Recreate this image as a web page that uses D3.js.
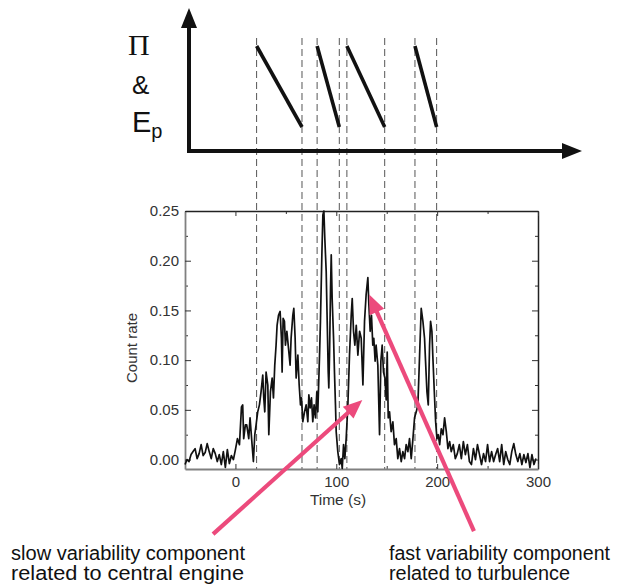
<!DOCTYPE html>
<html><head><meta charset="utf-8">
<script src="https://cdn.jsdelivr.net/npm/d3@7"></script>
<style>
html,body{margin:0;padding:0;background:#fff;}
svg{display:block;}
</style></head>
<body>
<svg id="chart" width="618" height="588" font-family="'Liberation Sans',Arial,Helvetica,sans-serif"></svg>
<script>
// ---- data ----
const times = [-50,-48,-46,-44,-42,-40,-38,-36,-34,-32,-30,-28,-26,-24,-22,-20,-18,-16,-14,-12,-10,-8,-6,-4,-2,
0,2,4,6,7.2,8.2,9.9,11.2,13.2,14.5,16.5,17.8,19.2,20.5,22.1,23.8,25.4,27.1,28.1,29.1,30.4,32.1,33.1,34.7,36.4,37.7,
39.0,40.3,41.3,42.7,44.3,45.6,46.3,47.3,48.6,49.6,51.0,52.6,54.2,55.2,56.9,57.9,59.2,60.2,61.9,63.2,64.5,65.5,
66.8,68.5,70.1,71.8,72.8,74.1,75.4,76.7,78.0,79.4,80.7,81.7,83.4,84.3,85.7,86.7,87.7,88.6,90.0,91.0,92.0,92.6,93.3,
94.3,95.0,95.9,97.3,98.2,99.2,99.9,101.5,103.2,104.9,105.9,107.2,108.5,109.8,111.5,113.1,114.8,115.8,117.1,118.4,
119.8,121.4,123.1,124.7,126.4,128.0,129.6,131.3,132.3,133.6,134.9,136.2,137.2,138.5,139.5,141.2,142.9,144.2,145.5,
146.8,148.2,149.5,150.5,151.5,152.8,154.4,156.1,157.7,159.4,161.0,162.7,164.4,166.0,167.7,169.3,171.0,172.6,174.3,
176.0,177.6,179.3,180.9,182.6,184.2,185.9,187.5,188.5,189.9,191.2,192.5,193.5,194.8,195.8,197.2,198.5,199.8,201.1,
202.5,204.1,205.8,207.4,209.1,210.7,212.4,214,216,218,220,222,224,226,228,230,232,234,236,238,240,242,244,246,248,
250,252,254,256,258,260,262,264,266,268,270,272,274,276,278,280,282,284,286,288,290,292,294,296,298];
const countRate = [-0.005,0.000,-0.002,0.005,0.008,0.011,0.001,0.006,0.015,0.004,0.007,0.016,0.008,0.001,0.011,0.006,-0.002,0.005,-0.005,0.008,-0.008,0.010,-0.004,0.004,0.000,
0.010,0.021,0.015,0.053,0.055,0.021,0.035,0.035,0.021,0.042,0.015,-0.002,0.025,0.035,0.048,0.055,0.068,0.085,0.062,0.048,0.088,0.075,0.025,0.068,0.082,0.062,
0.095,0.115,0.135,0.145,0.149,0.122,0.088,0.142,0.139,0.115,0.129,0.112,0.095,0.122,0.145,0.152,0.122,0.082,0.105,0.075,0.055,0.062,
0.038,0.048,0.055,0.038,0.065,0.052,0.062,0.038,0.055,0.042,0.068,0.048,0.105,0.139,0.206,0.246,0.250,0.223,0.189,0.139,0.088,0.072,0.105,
0.172,0.206,0.162,0.122,0.088,0.055,0.028,0.008,-0.005,0.001,-0.009,0.015,0.001,0.021,0.055,0.105,0.145,0.162,0.129,0.115,
0.135,0.105,0.129,0.122,0.075,0.139,0.166,0.183,0.156,0.129,0.145,0.115,0.122,0.099,0.115,0.095,0.025,0.099,0.115,
0.088,0.082,0.060,0.108,0.042,0.048,0.028,0.038,0.015,0.021,0.001,0.011,-0.002,0.008,0.001,0.015,0.008,0.021,0.001,
0.021,0.042,0.048,0.055,0.105,0.152,0.139,0.122,0.099,0.068,0.055,0.115,0.139,0.129,0.102,0.068,0.038,0.021,0.025,
0.015,0.031,0.025,0.042,0.028,0.011,0.018,0.008,0.015,0.001,0.006,0.015,0.001,0.018,0.005,0.015,-0.002,-0.005,0.011,0.000,0.015,0.005,-0.005,0.006,-0.002,
0.015,-0.002,0.008,-0.002,0.005,0.011,-0.002,0.015,-0.005,0.008,0.000,-0.005,0.008,0.016,0.005,-0.002,0.006,-0.005,0.005,-0.003,0.006,-0.008,0.005,-0.005,0.001];
const xTicks = [0,100,200,300];
const xMinor = [50,150,250];
const yTicks = [0,0.05,0.10,0.15,0.20,0.25];
const yMinor = [0.025,0.075,0.125,0.175,0.225];
// pulse boundaries (s): each pulse drops from high to low between start and end
const pulseStart = [21,81,110.5,178];
const pulseEnd   = [66,103,148,199.5];
const pulseHigh = 1, pulseLow = 0;
// annotations: arrow tail / head in data units
const arrowTailT = [-22.2, 236.5];
const arrowTailR = [-0.075, -0.072];
const arrowHeadT = [125.8, 132.6];
const arrowHeadR = [0.060, 0.166];

// ---- layout ----
const svg = d3.select("#chart");
const x = d3.scaleLinear().domain([-50,300]).range([185,538]);
const y = d3.scaleLinear().domain([-0.0095,0.25]).range([469,211]);
const sy = d3.scaleLinear().domain([pulseLow,pulseHigh]).range([127,46]);
const pink = "#ec4a7c";

// dashed pulse boundaries
const bounds = pulseStart.concat(pulseEnd);
svg.append("g").selectAll("line").data(bounds).join("line")
  .attr("x1",d=>x(d)).attr("x2",d=>x(d)).attr("y1",38).attr("y2",469)
  .attr("stroke","#555").attr("stroke-width",1).attr("stroke-dasharray","7,4");

// schematic axes
const sch = svg.append("g");
sch.append("line").attr("x1",189).attr("x2",189).attr("y1",153).attr("y2",24)
  .attr("stroke","#111").attr("stroke-width",4);
sch.append("path").attr("d","M189,8 L197,28 L181,28 Z").attr("fill","#111");
sch.append("line").attr("x1",187).attr("x2",566).attr("y1",151).attr("y2",151)
  .attr("stroke","#111").attr("stroke-width",4);
sch.append("path").attr("d","M582,151 L562,143 L562,159 Z").attr("fill","#111");
sch.selectAll("line.saw").data(pulseStart).join("line").attr("class","saw")
  .attr("x1",d=>x(d)).attr("y1",sy(pulseHigh))
  .attr("x2",(d,i)=>x(pulseEnd[i])).attr("y2",sy(pulseLow))
  .attr("stroke","#111").attr("stroke-width",3.6);
sch.append("text").attr("x",128).attr("y",55)
  .style("font-family","'Liberation Serif','Times New Roman',serif")
  .attr("font-size",30).attr("fill","#111").text("Π");
sch.append("text").attr("x",132).attr("y",94).attr("font-size",26).attr("fill","#111").text("&");
const ep = sch.append("text").attr("x",132).attr("y",132).attr("font-size",29).attr("fill","#111");
ep.append("tspan").text("E");
ep.append("tspan").attr("font-size",20).attr("dy",6).text("p");

// light-curve plot
const g = svg.append("g");
g.append("g").attr("transform",`translate(${x.range()[0]},0)`)
  .call(d3.axisLeft(y).tickValues(yMinor).tickSize(-3).tickSizeOuter(0).tickFormat(""))
  .call(a=>a.select(".domain").remove());
const yl = g.append("g").attr("transform",`translate(${x.range()[0]},0)`)
  .call(d3.axisLeft(y).tickValues(yTicks).tickSize(-6).tickSizeOuter(0).tickPadding(6).tickFormat(d3.format(".2f")));
yl.select(".domain").attr("stroke","#808080").attr("stroke-width",1.8);
g.append("g").attr("transform",`translate(${x.range()[1]},0)`)
  .call(d3.axisRight(y).tickValues(yMinor).tickSize(-3).tickSizeOuter(0).tickFormat(""))
  .call(a=>a.select(".domain").remove());
const yr = g.append("g").attr("transform",`translate(${x.range()[1]},0)`)
  .call(d3.axisRight(y).tickValues(yTicks).tickSize(-6).tickSizeOuter(0).tickFormat(""));
yr.select(".domain").attr("stroke","#222").attr("stroke-width",1.5);

g.append("g").attr("transform",`translate(0,${y.range()[0]})`)
  .call(d3.axisBottom(x).tickValues(xMinor).tickSize(-3).tickSizeOuter(0).tickFormat(""))
  .call(a=>a.select(".domain").remove());
const xb = g.append("g").attr("transform",`translate(0,${y.range()[0]})`)
  .call(d3.axisBottom(x).tickValues(xTicks).tickSize(-5).tickSizeOuter(0).tickPadding(7).tickFormat(d3.format("d")));
xb.select(".domain").attr("stroke","#808080").attr("stroke-width",2);
g.append("g").attr("transform",`translate(0,${y.range()[1]})`)
  .call(d3.axisTop(x).tickValues(xMinor).tickSize(-3).tickSizeOuter(0).tickFormat(""))
  .call(a=>a.select(".domain").remove());
const xt = g.append("g").attr("transform",`translate(0,${y.range()[1]})`)
  .call(d3.axisTop(x).tickValues(xTicks).tickSize(-5).tickSizeOuter(0).tickFormat(""));
xt.select(".domain").attr("stroke","#222").attr("stroke-width",1.3);

g.selectAll(".tick line").attr("stroke","#333");
g.selectAll(".tick text").attr("font-size",15).attr("fill","#333")
  .attr("font-family","'Liberation Sans',Arial,sans-serif");

// curve
const pts = times.map((t,i)=>[t,countRate[i]]);
g.append("path").datum(pts)
  .attr("d",d3.line().x(d=>x(d[0])).y(d=>y(d[1])))
  .attr("fill","none").attr("stroke","#111").attr("stroke-width",1.7).attr("stroke-linejoin","round");

// axis titles
g.append("text").attr("x",338).attr("y",505).attr("text-anchor","middle")
  .attr("font-size",15.5).attr("fill","#333").text("Time (s)");
g.append("text").attr("transform","translate(137,348) rotate(-90)").attr("text-anchor","middle")
  .attr("font-size",15).attr("fill","#333").text("Count rate");

// pink arrows
const ann = svg.append("g");
arrowHeadT.forEach((ht,i)=>{
  const x0=x(arrowTailT[i]), y0=y(arrowTailR[i]), x1=x(ht), y1=y(arrowHeadR[i]);
  const ang=Math.atan2(y1-y0,x1-x0), L=19, W=8;
  const bx=x1-L*Math.cos(ang), by=y1-L*Math.sin(ang);
  ann.append("line").attr("x1",x0).attr("y1",y0).attr("x2",bx+2*Math.cos(ang)).attr("y2",by+2*Math.sin(ang))
    .attr("stroke",pink).attr("stroke-width",4.2);
  const px=-Math.sin(ang), py=Math.cos(ang);
  ann.append("path").attr("d",`M${x1},${y1} L${bx+W*px},${by+W*py} L${bx-W*px},${by-W*py} Z`).attr("fill",pink);
});

// annotation texts
const notes = [
  {x:11, y:560, t:"slow variability component", w:234},
  {x:11, y:580, t:"related to central engine", w:233},
  {x:389, y:560, t:"fast variability component", w:221},
  {x:389, y:580, t:"related to turbulence", w:181}
];
svg.append("g").selectAll("text").data(notes).join("text")
  .attr("x",d=>d.x).attr("y",d=>d.y).attr("font-size",19.5).attr("fill","#111")
  .attr("textLength",d=>d.w).attr("lengthAdjust","spacingAndGlyphs").text(d=>d.t);
</script>
</body></html>
